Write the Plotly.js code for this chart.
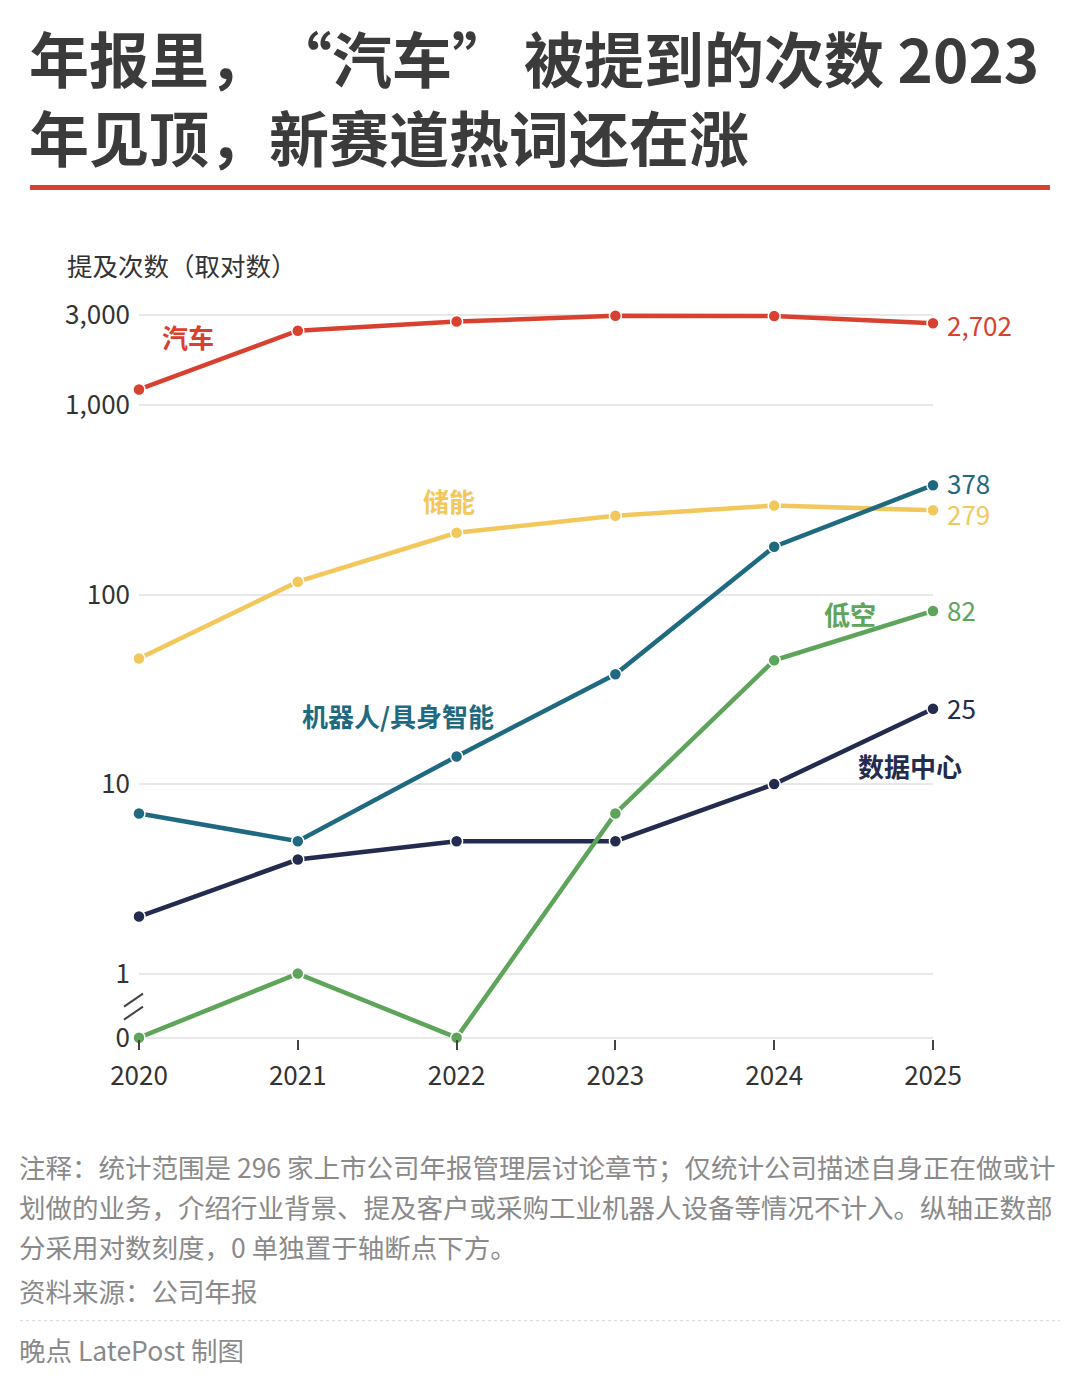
<!DOCTYPE html>
<html>
<head>
<meta charset="utf-8">
<script src="https://cdn.plot.ly/plotly-3.0.1.min.js"></script>
<style>
  html, body { margin: 0; padding: 0; background: #ffffff; }
  #chart { width: 1080px; height: 1378px; }
</style>
</head>
<body>
<div id="chart"></div>
<script>
// ---- Data ----
const years = [2020, 2021, 2022, 2023, 2024, 2025];
const seriesNames = ["汽车", "储能", "机器人/具身智能", "低空", "数据中心"];
const car        = [1210, 2470, 2760, 2960, 2950, 2702];
const storage    = [46, 117, 212, 261, 295, 279];
const robot      = [7, 5, 14, 38, 179, 378];
const lowAlt     = [0, 1, 0, 7, 45, 82];
const dataCenter = [2, 4, 5, 5, 10, 25];
const yTickValues = [0, 1, 10, 100, 1000, 3000];
const yTickLabels = ["0", "1", "10", "100", "1,000", "3,000"];
const endLabels = ["2,702", "279", "378", "82", "25"];

// ---- Styling ----
const FONT = "Noto Sans CJK SC, Noto Sans, sans-serif";
const colors = {
  car: "#d8412f",
  storage: "#f2c75c",
  robot: "#1f6a80",
  lowAlt: "#5ea45a",
  dc: "#232b4e"
};
const ZERO_POS = -0.338; // where 0 sits below the axis break
function tr(v) { return v > 0 ? Math.log10(v) : ZERO_POS; }

const W = 1080, H = 1378;
const M = { l: 139, r: 147, t: 299.4, b: 338.6 };
const PW = W - M.l - M.r, PH = H - M.t - M.b;
function px(x) { return (x - M.l) / PW; }
function py(y) { return (H - M.b - y) / PH; }

function mk(name, vals, color) {
  return {
    type: "scatter", mode: "lines+markers", name: name,
    x: years, y: vals.map(tr),
    line: { color: color, width: 4.5 },
    marker: { color: color, size: 12, line: { color: "#ffffff", width: 1.5 } },
    cliponaxis: false, hoverinfo: "skip", showlegend: false
  };
}

const traces = [
  mk(seriesNames[0], car, colors.car),
  mk(seriesNames[1], storage, colors.storage),
  mk(seriesNames[2], robot, colors.robot),
  mk(seriesNames[4], dataCenter, colors.dc),
  mk(seriesNames[3], lowAlt, colors.lowAlt)
];

const annotations = [];
function txt(x, y, text, size, color, xanchor, extra) {
  annotations.push(Object.assign({
    xref: "paper", yref: "paper", x: px(x), y: py(y), text: text,
    showarrow: false, xanchor: xanchor || "left", yanchor: "middle",
    font: { family: FONT, size: size, color: color }
  }, extra || {}));
}

// Title (line 1 in three pieces to keep the wide gaps around the quotes)
const titleColor = "#3b3b3b";
txt(27, 57, "<b>年报里，</b>", 60, titleColor);
txt(270, 57, "<b>“汽车”</b>", 60, titleColor);
txt(522, 57, "<b>被提到的次数 2023</b>", 60, titleColor);
txt(27, 136, "<b>年见顶，新赛道热词还在涨</b>", 60, titleColor);
// Axis title
txt(65, 265, "提及次数（取对数）", 25.5, "#333333");

// Series labels (data coords)
function dl(x, y, text, color) {
  annotations.push({
    xref: "x", yref: "y", x: x, y: y, text: "<b>" + text + "</b>",
    showarrow: false, xanchor: "center", yanchor: "middle",
    font: { family: FONT, size: 26, color: color }
  });
}
dl(2020.31, 3.361, seriesNames[0], colors.car);
dl(2021.95, 2.496, seriesNames[1], colors.storage);
dl(2021.63, 1.361, seriesNames[2], colors.robot);
dl(2024.48, 1.900, seriesNames[3], colors.lowAlt);
dl(2024.855, 1.098, seriesNames[4], colors.dc);

// End value labels
const lastVals = [car[5], storage[5], robot[5], lowAlt[5], dataCenter[5]];
const endColors = [colors.car, colors.storage, colors.robot, colors.lowAlt, colors.dc];
const endShift = [-1, -3, 3, 1, 1];
lastVals.forEach(function (v, i) {
  annotations.push({
    xref: "x", yref: "y", x: years[5], y: tr(v), text: endLabels[i],
    showarrow: false, xanchor: "left", yanchor: "middle", xshift: 12, yshift: endShift[i],
    font: { family: FONT, size: 26, color: endColors[i] }
  });
});

// Footer
const noteColor = "#8a8a8a";
txt(17, 1167, "注释：统计范围是 296 家上市公司年报管理层讨论章节；仅统计公司描述自身正在做或计", 26.5, noteColor);
txt(17, 1207, "划做的业务，介绍行业背景、提及客户或采购工业机器人设备等情况不计入。纵轴正数部", 26.5, noteColor);
txt(17, 1247, "分采用对数刻度，0 单独置于轴断点下方。", 26.5, noteColor);
txt(17, 1291, "资料来源：公司年报", 26.5, noteColor);
txt(17, 1350, "晚点 LatePost 制图", 26.5, noteColor);

const shapes = [
  // red rule under title
  { type: "line", xref: "paper", yref: "paper", x0: px(30), x1: px(1050), y0: py(188), y1: py(188),
    line: { color: "#d8412f", width: 5 } },
  // dashed separator in footer
  { type: "line", xref: "paper", yref: "paper", x0: px(20), x1: px(1060), y0: py(1321), y1: py(1321),
    line: { color: "#dddddd", width: 1.2, dash: "dot" } },
  // axis break marks
  { type: "line", xref: "paper", yref: "paper", x0: px(124), x1: px(143), y0: py(1007), y1: py(994),
    line: { color: "#444444", width: 2 } },
  { type: "line", xref: "paper", yref: "paper", x0: px(124), x1: px(143), y0: py(1020), y1: py(1007),
    line: { color: "#444444", width: 2 } }
];

const layout = {
  width: W, height: H,
  margin: M,
  paper_bgcolor: "#ffffff", plot_bgcolor: "#ffffff",
  showlegend: false,
  font: { family: FONT, color: "#333333" },
  xaxis: {
    range: [2020, 2025], tickvals: years, ticktext: years.map(String),
    showgrid: false, zeroline: false, showline: false,
    ticks: "outside", ticklen: 10, tickwidth: 2, tickcolor: "#444444",
    tickfont: { family: FONT, size: 26, color: "#333333" },
    ticklabelstandoff: 4, fixedrange: true
  },
  yaxis: {
    range: [-0.345, 3.56],
    tickvals: yTickValues.map(tr), ticktext: yTickLabels,
    showgrid: true, gridcolor: "#e8e8e8", gridwidth: 2,
    zeroline: false, showline: false, ticks: "",
    tickfont: { family: FONT, size: 26, color: "#333333" },
    ticklabelstandoff: 8, fixedrange: true
  },
  annotations: annotations,
  shapes: shapes
};

Plotly.newPlot("chart", traces, layout, { displayModeBar: false, staticPlot: true });
</script>
</body>
</html>
